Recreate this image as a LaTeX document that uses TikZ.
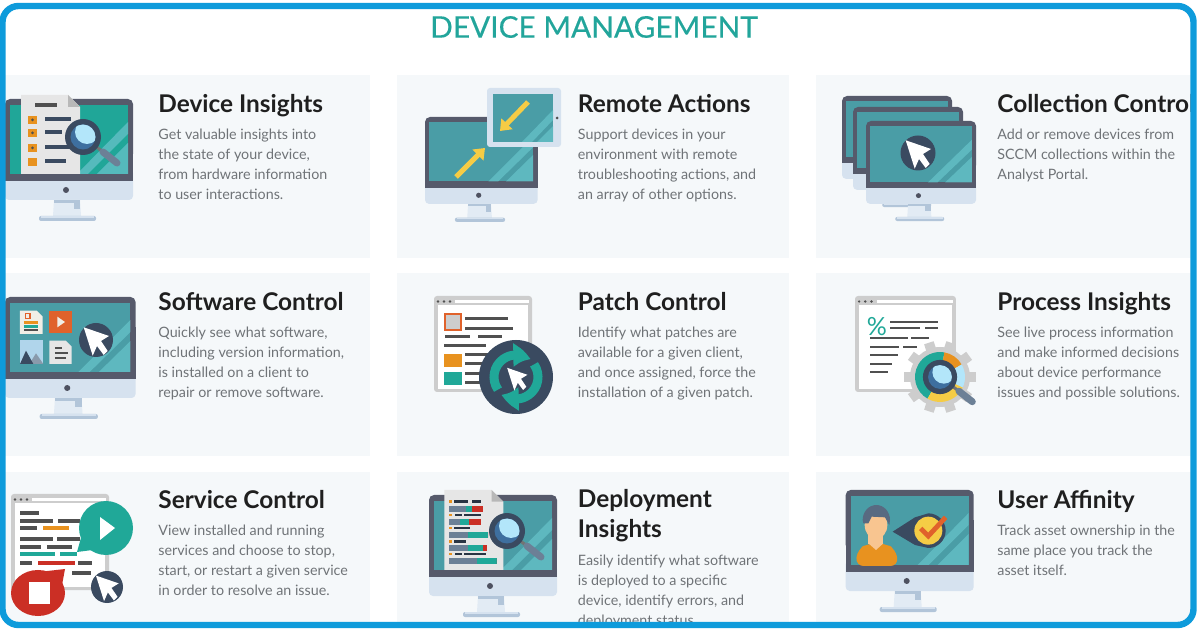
\documentclass[tikz,border=0pt]{standalone}
\usepackage{fontspec}
\setmainfont{Lato}
\newfontfamily\toplinefont[FakeBold=0.35]{Lato}
\usetikzlibrary{arrows.meta,bending}
\definecolor{frameblue}{HTML}{0E9BDB}
\definecolor{panelgray}{HTML}{F5F8FA}
\definecolor{headteal}{HTML}{22A59B}
\definecolor{bodygray}{HTML}{6F7377}
\definecolor{bezel}{HTML}{565A6B}
\definecolor{chinblue}{HTML}{D6E2EF}
\definecolor{footblue}{HTML}{B2C5D9}
\definecolor{screenblue}{HTML}{4A9DA6}
\definecolor{screenteal}{HTML}{20A698}
\definecolor{stripeblue}{HTML}{63BFC6}
\definecolor{navy}{HTML}{3A4A60}
\definecolor{wingray}{HTML}{CDCDCD}
\definecolor{inkgray}{HTML}{505050}
\definecolor{amber}{HTML}{E8921F}
\definecolor{sunny}{HTML}{F5CC45}
\definecolor{tealbar}{HTML}{20A898}
\definecolor{redbar}{HTML}{CB2F25}
\definecolor{rust}{HTML}{E0622B}
\definecolor{paper}{HTML}{E6E6E6}
\definecolor{docwhite}{HTML}{F0EEE6}
\definecolor{steel}{HTML}{6C8096}
\definecolor{skintone}{HTML}{F8C590}
\tikzset{
  headline/.style={anchor=base west,inner sep=0pt,font=\fontsize{12.2}{15}\selectfont\bfseries,text=black!88,align=left},
  blurb/.style={anchor=north west,inner sep=0pt,font=\fontsize{7.15}{10}\selectfont,text=bodygray,align=left},
  inkline/.style={inkgray,line width=1.5pt},
  cyclearrow/.style={tealbar,line width=4.5pt,-{Triangle[width=11pt,length=9pt,bend]}},
  pics/imac/.style={code={
    \fill[chinblue,rounded corners=2pt] (0,70) rectangle (128,101);
    \fill[bezel,rounded corners=2.5pt] (0,0) rectangle (128,60);
    \fill[bezel] (0,30) rectangle (128,82);
    \fill[#1] (5,6) rectangle (123,75);
    \fill[stripeblue,opacity=.8] (72,75) -- (83,75) -- (123,35) -- (123,23) -- cycle;
    \fill[stripeblue,opacity=.8] (92,75) -- (123,75) -- (123,44) -- cycle;
    \fill[bezel!90!black] (61,91) circle (3);
    \fill[chinblue!70!white] (49,101) -- (75,101) -- (76,117) -- (48,117) -- cycle;
    \fill[footblue] (49,101) rectangle (75,104);
    \fill[footblue] (69,104) rectangle (75,110);
    \fill[footblue,rounded corners=1pt] (34,117) rectangle (91,122);
    \fill[chinblue] (36,117) rectangle (89,119);
  }},
  pics/lens/.style={code={
    \draw[inkgray!80,line width=1.5pt] (12,9) -- (20,15);
    \draw[steel,line width=3.5pt,line cap=round] (20,15) -- (34,26);
    \fill[navy] (0,0) circle (18);
    \fill[cyan!60!blue!70!black] (0,0) circle (12.5);
    \begin{scope}
      \clip (0,0) circle (12.5);
      \fill[cyan!30!white] (4,-5) circle (12);
    \end{scope}
  }},
  pics/cursor/.style={code={
    \fill[white] (-12.3,-12.7) -- (13,-4) -- (5,1) -- (11.7,11) -- (7.7,15) -- (1,6) -- (-3.3,15.7) -- cycle;
  }},
  pics/browser/.style={code={
    \fill[wingray,rounded corners=1.5pt] (0,0) rectangle (98,96);
    \fill[white] (4,9) rectangle (94,93);
    \fill[white] (21,4) rectangle (95,7);
    \foreach \dotx in {4,10,16} \fill[inkgray] (\dotx,5.5) circle (1.3);
  }},
}
\begin{document}
\begin{tikzpicture}[x=.5pt,y=-.5pt]
  \useasboundingbox (0,0) rectangle (1200,630);
  \fill[white] (0,0) rectangle (1200,630);
  \begin{scope}
  \clip[rounded corners=7pt] (2.5,6) rectangle (1193.5,625);
  % card backgrounds
  \foreach \xa/\xb in {5/370,397/789,816/1195}
    \foreach \ya/\yb in {75/258,273/456,472/630}
      \fill[panelgray] (\xa,\ya) rectangle (\xb,\yb);

  \node[anchor=center,inner sep=0pt,font=\toplinefont\fontsize{14.9}{16}\selectfont,text=headteal] (pagehead) at (594,27) {DEVICE MANAGEMENT};

  % first row texts
  \node[headline] (insightshead) at (158,113) {Device Insights};
  \node[blurb] (insightstext) at (158,129) {Get valuable insights into\\the state of your device,\\from hardware information\\to user interactions.};
  \node[headline] (remotehead) at (577.5,113) {Remote Actions};
  \node[blurb] (remotetext) at (577.5,129) {Support devices in your\\environment with remote\\troubleshooting actions, and\\an array of other options.};
  \node[headline] (collecthead) at (997,113) {Collection Control};
  \node[blurb] (collecttext) at (997,129) {Add or remove devices from\\SCCM collections within the\\Analyst Portal.};
  % second row texts
  \node[headline] (softhead) at (158,311) {Software Control};
  \node[blurb] (softtext) at (158,327) {Quickly see what software,\\including version information,\\is installed on a client to\\repair or remove software.};
  \node[headline] (patchhead) at (577.5,311) {Patch Control};
  \node[blurb] (patchtext) at (577.5,327) {Identify what patches are\\available for a given client,\\and once assigned, force the\\installation of a given patch.};
  \node[headline] (processhead) at (997,311) {Process Insights};
  \node[blurb] (processtext) at (997,327) {See live process information\\and make informed decisions\\about device performance\\issues and possible solutions.};
  % third row texts
  \node[headline] (servicehead) at (158,509) {Service Control};
  \node[blurb] (servicetext) at (158,525) {View installed and running\\services and choose to stop,\\start, or restart a given service\\in order to resolve an issue.};
  \node[headline,anchor=north west] (deployhead) at (577.5,489) {Deployment\\Insights};
  \node[blurb] (deploytext) at (577.5,555) {Easily identify what software\\is deployed to a specific\\device, identify errors, and\\deployment status.};
  \node[headline] (userhead) at (997,509) {User Affinity};
  \node[blurb] (usertext) at (997,525) {Track asset ownership in the\\same place you track the\\asset itself.};

  % device insights icon
  \pic at (5,99) {imac=screenteal};
  \fill[paper] (21,95) -- (68,95) -- (80,107) -- (80,174) -- (21,174) -- cycle;
  \fill[paper!80!black] (68,95) -- (80,107) -- (68,107) -- cycle;
  \draw[inkgray,line width=2pt] (35,105) -- (57,105);
  \foreach \ybox/\xend in {116/71,129/62,144/70,158/66} {
    \fill[amber] (28,\ybox) rectangle (37,\ybox+8);
    \draw[navy,line width=2pt] (45,\ybox+3) -- (\xend,\ybox+3);
  }
  \foreach \ybox in {116,129,144} \fill[inkgray] (32.5,\ybox+4) circle (1.5);
  \pic at (83,137) {lens};

  % remote actions icon
  \pic[xscale=.88,yscale=.86] at (425,117) {imac=screenblue};
  \fill[chinblue,rounded corners=1.5pt] (487,88) rectangle (561,147);
  \fill[screenblue] (493,94) rectangle (553,142);
  \fill[stripeblue,opacity=.8] (522,142) -- (532,142) -- (553,120) -- (553,110) -- cycle;
  \fill[stripeblue,opacity=.8] (537,142) -- (553,142) -- (553,126) -- cycle;
  \fill[inkgray] (557,118) circle (1.5);
  \draw[sunny,line width=2.5pt,-{Triangle[width=7.5pt,length=5pt]}] (528,102) -- (500,131);
  \draw[sunny,line width=2.5pt,-{Triangle[width=7.5pt,length=5pt]}] (456,177) -- (485,148);

  % collection control icon
  \pic[xscale=.86,yscale=.82] at (842,96) {imac=screenblue};
  \pic[xscale=.86,yscale=.82] at (853,107) {imac=screenblue};
  \pic[xscale=.86,yscale=.82] at (866,121) {imac=screenblue};
  \fill[navy] (918,153) circle (17.5);
  \pic at (918,153) {cursor};

  % software control icon
  \pic[xscale=1.02] at (5,297) {imac=screenblue};
  \begin{scope}[shift={(0,270)},scale=1/3]
    \fill[docwhite] (60,122) -- (110,122) -- (128,140) -- (128,192) -- (60,192) -- cycle;
    \draw[rust,line width=.8pt] (76,131) rectangle (90,146);
    \draw[amber,line width=1.2pt] (72,158) -- (115,158);
    \draw[tealbar,line width=1.2pt] (72,169) -- (115,169);
    \draw[inkgray,line width=1.2pt] (72,180) -- (115,180);
    \fill[rust] (148,122) rectangle (215,190);
    \fill[docwhite] (172,140) -- (195,156) -- (172,172) -- cycle;
    \fill[cyan!20!chinblue] (60,210) rectangle (130,282);
    \fill[steel!80!white] (88,282) -- (108,250) -- (130,282) -- cycle;
    \fill[navy] (60,282) -- (78,242) -- (100,282) -- cycle;
    \fill[paper] (148,212) -- (197,212) -- (215,230) -- (215,282) -- (148,282) -- cycle;
    \foreach \ya/\xa/\xb in {235/165/185,248/165/205,265/165/198}
      \draw[inkgray,line width=1pt] (\xa,\ya) -- (\xb,\ya);
  \end{scope}
  \fill[navy] (96,340) circle (17);
  \pic at (96,340) {cursor};

  % patch control icon
  \pic at (434,296) {browser};
  \fill[wingray,draw=rust,line width=1pt] (445,314) rectangle (461,330);
  \foreach \xa/\xb/\ya in {465/508/319,465/513/329,445/470/337,478/502/337,444/486/346,465/490/355,465/490/364,465/490/374,465/490/383}
    \draw[inkline] (\xa,\ya) -- (\xb,\ya);
  \fill[amber] (444,354) rectangle (462,367);
  \fill[tealbar] (444,372) rectangle (462,385);
  \fill[navy] (516,377) circle (37);
  \draw[cyclearrow] (516,377) ++(145:22) arc[start angle=145,end angle=310,radius=22];
  \draw[cyclearrow] (516,377) ++(325:22) arc[start angle=325,end angle=490,radius=22];
  \pic[scale=.8] at (517,378) {cursor};

  % process insights icon
  \pic[xscale=1.03] at (855,296) {browser};
  \node[inner sep=0pt,font=\fontsize{12.5}{14}\selectfont,text=tealbar] (percentsign) at (877,327) {\%};
  \foreach \xa/\xb/\ya in {890/938/322,890/920/328,925/938/328,870/908/338,911/929/338,870/899/347,903/917/347,870/898/355,870/892/364,870/888/372}
    \draw[inkgray,line width=1.3pt] (\xa,\ya) -- (\xb,\ya);
  \fill[wingray] (940,377) circle (30);
  \foreach \ang in {0,36,...,324}
    \fill[wingray,rotate around={\ang:(940,377)}] (964,372) rectangle (976,382);
  \foreach \ta/\tb/\cola in {120/280/tealbar,280/330/amber,330/385/cyan!30!white,385/480/sunny}
    \fill[\cola] (940,377) -- ++(\ta:25) arc[start angle=\ta,end angle=\tb,radius=25] -- cycle;
  \pic[scale=.95] at (940,377) {lens};

  % service control icon
  \pic at (11,494) {browser};
  \foreach \xa/\xb/\ya/\cola in {20/39/513/inkgray,20/53/521/inkgray,58/80/521/inkgray,20/37/528/inkgray,43/69/528/amber,20/53/539/inkgray,57/80/539/inkgray,20/41/547/inkgray,47/72/547/inkgray,20/55/554/tealbar,60/77/554/tealbar,20/32/563/inkgray,38/75/563/redbar,78/92/563/inkgray,72/91/573/inkgray}
    \draw[\cola,line width=1.6pt] (\xa,\ya) -- (\xb,\ya);
  \fill[tealbar] (106,528) circle (27);
  \fill[tealbar] (77,552) -- (86,520) -- (108,548) -- cycle;
  \fill[white] (100,517) -- (115,528) -- (100,540) -- cycle;
  \fill[redbar] (38,593) ellipse (27 and 23);
  \fill[redbar] (65,569) -- (30,573) -- (60,596) -- cycle;
  \fill[white] (29,582) rectangle (50,604);
  \fill[navy] (107,587) circle (16);
  \pic[scale=.9] at (107,587) {cursor};

  % deployment insights icon
  \pic at (429,495) {imac=screenblue};
  \begin{scope}[shift={(400,460)},scale=1/3]
    \fill[paper] (133,90) -- (275,90) -- (310,125) -- (310,330) -- (133,330) -- cycle;
    \fill[paper!80!black] (275,90) -- (310,125) -- (275,125) -- cycle;
    \foreach \ya/\xa/\xb/\xc/\xd in {125/163/205/217/243,165/165/185/192/243,204/163/210/210/210,244/163/198/198/198,282/165/185/192/257} {
      \fill[amber] (147,\ya-4) rectangle (156,\ya+4);
      \draw[navy!70!black,line width=1.2pt] (\xa,\ya) -- (\xb,\ya);
      \draw[navy!70!black,line width=1.2pt] (\xc,\ya) -- (\xd,\ya);
    }
    \foreach \ya/\xa/\xb/\xc in {138/198/215/248,178/180/207/242,216/205/265/265,256/205/250/260,295/232/290/290} {
      \fill[steel] (147,\ya) rectangle (\xa,\ya+17);
      \fill[tealbar] (\xa,\ya) rectangle (\xb,\ya+17);
      \fill[redbar] (\xb,\ya) rectangle (\xc,\ya+17);
    }
  \end{scope}
  \pic at (507,531) {lens};

  % user affinity icon
  \pic at (845.7,490) {imac=screenblue};
  \begin{scope}[shift={(800,460)},scale=1/3]
    \fill[amber,rounded corners=4pt] (167,318) -- (172,268) -- (205,250) -- (255,250) -- (288,268) -- (295,318) -- cycle;
    \fill[skintone] (205,225) rectangle (250,252);
    \fill[skintone] (205,250) -- (250,250) -- (228,270) -- cycle;
    \fill[skintone] (228,195) ellipse (34 and 42);
    \fill[steel!60!navy] (188,180) arc[start angle=180,end angle=360,x radius=41,y radius=45] -- (268,195) -- (255,172) -- (215,170) -- (205,190) -- (190,190) -- cycle;
    \fill[navy] (278,215) -- (345,172) -- (385,160) arc[start angle=270,end angle=450,radius=52] -- (345,255) -- cycle;
    \fill[sunny] (385,212) circle (42);
    \draw[rust,line width=2.4pt] (362,205) -- (385,228) -- (437,172);
  \end{scope}
  \end{scope}

  % outer blue frame
  \draw[frameblue,line width=3.2pt,rounded corners=8pt] (2.5,6) rectangle (1193.5,625);
\end{tikzpicture}
\end{document}
